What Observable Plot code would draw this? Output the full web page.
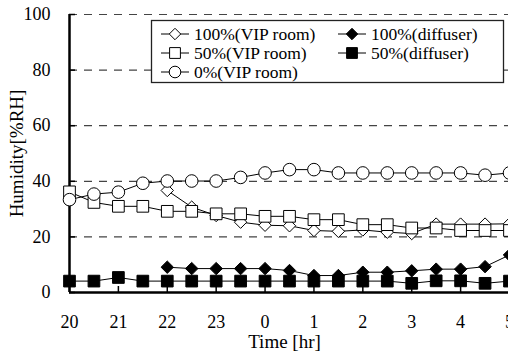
<!DOCTYPE html>
<html><head><meta charset="utf-8">
<script src="https://cdn.jsdelivr.net/npm/d3@7"></script>
<script src="https://cdn.jsdelivr.net/npm/@observablehq/plot@0.6"></script>
<style>
html,body{margin:0;padding:0;background:#fff;}
#wrap{position:relative;width:508px;height:351px;overflow:hidden;font-family:"Liberation Serif",serif;}
#wrap svg{max-width:none !important;}
#wrap svg.legend{position:absolute;left:0;top:0;}
</style></head><body><div id="wrap"></div>
<script>
// hours elapsed since 20:00, sampled every half hour
const elapsed = [0,0.5,1,1.5,2,2.5,3,3.5,4,4.5,5,5.5,6,6.5,7,7.5,8,8.5,9];
const tickValues = [0,1,2,3,4,5,6,7,8,9];
const tickLabels = ["20","21","22","23","0","1","2","3","4","5"];
const yTicks = [0,20,40,60,80,100];

const vip100  = [null,null,null,null,36.7,30.7,27.7,25.3,24.2,24,22.3,22,22.5,21.7,21.2,24.6,24.6,24.6,24.7];
const diff100 = [null,null,null,null,9.1,8.6,8.6,8.6,8.6,7.9,6.1,6.1,7.3,7.3,7.8,8.4,8.4,9.3,13.5];
const vip50   = [36.2,32.4,31,31,29.2,29.2,28.3,28.3,27.4,27.4,26.2,26.2,24.4,24.4,23.2,23.2,22.3,22.3,22.3];
const diff50  = [4.1,4.1,5.4,4.1,4.1,4.1,4.1,4.1,4.1,4.1,4.1,4.1,4.1,4.1,3.3,4.2,4.2,3.3,4.1];
const vip0    = [33.4,35.4,36.1,39.3,40.1,40.1,40.1,41.4,43,44.2,44.2,43,43,43,43,43,43,42.2,43];

const seriesNames = ["100%(VIP room)","100%(diffuser)","50%(VIP room)","50%(diffuser)","0%(VIP room)"];
const seriesValues = [vip100, diff100, vip50, diff50, vip0];
const seriesSymbol = ["diamond2","diamond2","square","square","circle"];
const seriesFill = ["white","black","white","black","white"];
const seriesR = [5.6,5.6,6.6,6.6,6.3];

const FONT = '"Liberation Serif",serif';

function rows(vals){ return elapsed.map((t,i)=>({t, v: vals[i]})).filter(d=>d.v!=null); }

const seriesMarks = [];
seriesValues.forEach((vals,k)=>{
  const d = rows(vals);
  seriesMarks.push(Plot.line(d,{x:"t",y:"v",stroke:"black",strokeWidth:1}));
  seriesMarks.push(Plot.dot(d,{x:"t",y:"v",symbol:()=>seriesSymbol[k],r:seriesR[k],fill:seriesFill[k],stroke:"black",strokeWidth:1}));
});

const chart = Plot.plot({
  width: 530, height: 351,
  marginLeft: 69, marginRight: 21, marginTop: 14, marginBottom: 59,
  x: {domain:[0,9]},
  y: {domain:[0,100]},
  symbol: {type: "identity"},
  style: {fontFamily:FONT, fontSize:"18px", background:"transparent", color:"#000", maxWidth:"none"},
  marks: [
    Plot.gridY([20,40,60,80,100], {stroke:"#444", strokeOpacity:1, strokeWidth:1.2, strokeDasharray:"8,7"}),
    Plot.axisY(yTicks, {tickSize:-6, tickPadding:25, label:null, strokeWidth:1.5}),
    Plot.axisX(tickValues, {tickSize:-6, tickPadding:29, tickFormat:(d)=>tickLabels[d], label:null, strokeWidth:1.5}),
    Plot.text(["Humidity[%RH]"], {frameAnchor:"left", dx:-52.5, rotate:-90, fontSize:19, textAnchor:"middle", lineAnchor:"middle"}),
    Plot.text(["Time [hr]"], {frameAnchor:"bottom", dx:-5, dy:49, fontSize:19, textAnchor:"middle", lineAnchor:"middle"}),
    Plot.ruleY([0], {strokeWidth:2.5}),
    Plot.ruleX([0], {strokeWidth:2.5}),
    ...seriesMarks
  ]
});
const wrap = document.getElementById("wrap");
wrap.appendChild(chart);

// legend
const lg = d3.select(wrap).append("svg").attr("class","legend").attr("width",508).attr("height",100);
lg.append("rect").attr("x",151.5).attr("y",20.5).attr("width",352).attr("height",62).attr("fill","white").attr("stroke","#222").attr("stroke-width",1.3);
const pos = [[175,34],[352,34],[175,53],[352,53],[175,72]];
const symMap = {diamond2:d3.symbolDiamond2, square:d3.symbolSquare, circle:d3.symbolCircle};
seriesNames.forEach((name,k)=>{
  const [cx,cy] = pos[k];
  lg.append("line").attr("x1",cx-14).attr("x2",cx+14).attr("y1",cy).attr("y2",cy).attr("stroke","black").attr("stroke-width",1);
  lg.append("path").attr("transform",`translate(${cx},${cy})`)
    .attr("d", d3.symbol(symMap[seriesSymbol[k]], Math.PI*seriesR[k]*seriesR[k]*0.85)())
    .attr("fill",seriesFill[k]).attr("stroke","black").attr("stroke-width",1);
  lg.append("text").attr("x",cx+19).attr("y",cy).attr("dy","0.35em")
    .attr("font-family",FONT).attr("font-size",17.5).text(name);
});
</script></body></html>
